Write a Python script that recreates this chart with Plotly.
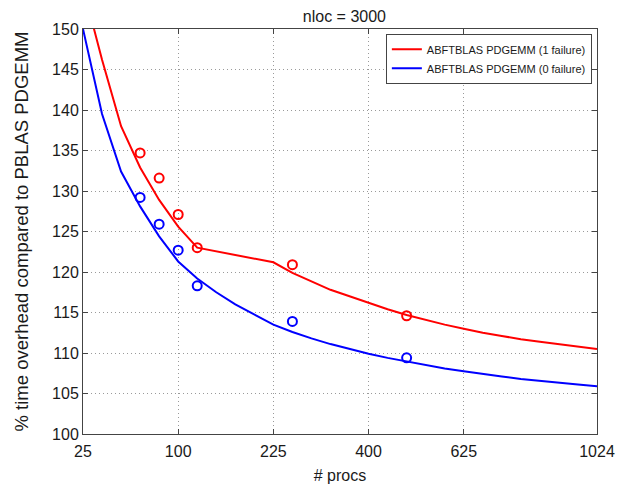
import numpy as np
import plotly.graph_objects as go

# Measured points
procs_meas = [64, 81, 100, 121, 256, 484]
meas_1fail = [134.7, 131.6, 127.1, 123.0, 120.9, 114.6]
meas_0fail = [129.2, 125.9, 122.7, 118.3, 113.9, 109.4]

# Model curves
procs_model = [25, 36, 49, 64, 81, 100, 121, 144, 169, 196, 225, 256, 289, 324, 361, 400,
               441, 484, 529, 576, 625, 676, 729, 784, 841, 900, 961, 1024]
model_1fail = [155.2, 146.2, 138.0, 132.9, 128.9, 125.6, 123.0, 122.55, 122.1, 121.65, 121.2, 119.9,
               118.8, 117.8, 117.0, 116.2, 115.4, 114.7, 114.1, 113.5, 113.0, 112.5, 112.1, 111.7,
               111.4, 111.1, 110.8, 110.5]
model_0fail = [150.0, 139.5, 132.4, 128.1, 124.4, 121.3, 119.2, 117.5, 116.0, 114.7, 113.5, 112.6,
               111.8, 111.1, 110.5, 109.9, 109.4, 108.95, 108.5, 108.1, 107.75, 107.4, 107.1, 106.8,
               106.55, 106.3, 106.1, 105.9]

x_tick_vals = [25, 100, 225, 400, 625, 1024]
y_tick_vals = [100, 105, 110, 115, 120, 125, 130, 135, 140, 145, 150]

sq = np.sqrt
font = "Liberation Sans, Arial, Helvetica, sans-serif"

fig = go.Figure()
fig.add_trace(go.Scatter(x=sq(procs_model), y=model_1fail, mode="lines",
                         line=dict(color="#ff0000", width=2),
                         name="ABFTBLAS PDGEMM (1 failure)"))
fig.add_trace(go.Scatter(x=sq(procs_model), y=model_0fail, mode="lines",
                         line=dict(color="#0000ff", width=2),
                         name="ABFTBLAS PDGEMM (0 failure)"))
fig.add_trace(go.Scatter(x=sq(procs_meas), y=meas_1fail, mode="markers",
                         marker=dict(symbol="circle-open", size=9, color="#ff0000",
                                     line=dict(width=2, color="#ff0000")),
                         showlegend=False, cliponaxis=False))
fig.add_trace(go.Scatter(x=sq(procs_meas), y=meas_0fail, mode="markers",
                         marker=dict(symbol="circle-open", size=9, color="#0000ff",
                                     line=dict(width=2, color="#0000ff")),
                         showlegend=False, cliponaxis=False))

axis_common = dict(showline=True, linecolor="#444444", linewidth=1, mirror="allticks",
                   ticks="inside", ticklen=5, tickcolor="#444444", automargin=False,
                   showgrid=True, gridcolor="#9a9a9a", griddash="1px,3px", gridwidth=1,
                   zeroline=False, tickfont=dict(size=16, color="#1a1a1a", family=font))

fig.update_xaxes(range=[5, 32], tickvals=sq(x_tick_vals), ticktext=[str(v) for v in x_tick_vals],
                 ticklabelstandoff=3,
                 title=dict(text="# procs", font=dict(size=16, color="#1a1a1a", family=font),
                            standoff=11),
                 **axis_common)
fig.update_yaxes(range=[100, 150], tickvals=y_tick_vals, ticktext=[str(v) for v in y_tick_vals],
                 title=dict(text="% time overhead compared to PBLAS PDGEMM",
                            font=dict(size=18.5, color="#1a1a1a", family=font), standoff=18),
                 **axis_common)

# page body adds an 8px offset, so the figure is 8px smaller and margins compensate
fig.update_layout(
    width=623, height=476,
    margin=dict(l=75, r=34, t=21, b=50),
    paper_bgcolor="white", plot_bgcolor="white",
    title=dict(text="nloc = 3000", x=0.54, xanchor="center", y=0.983, yanchor="middle",
               font=dict(size=16, color="#1a1a1a", family=font)),
    legend=dict(x=0.99, y=0.988, xanchor="right", yanchor="top",
                bgcolor="white", bordercolor="#444444", borderwidth=1,
                font=dict(size=11, color="#1a1a1a", family=font),
                tracegroupgap=0, itemwidth=30),
    showlegend=True,
)

fig.write_html("out.html")
